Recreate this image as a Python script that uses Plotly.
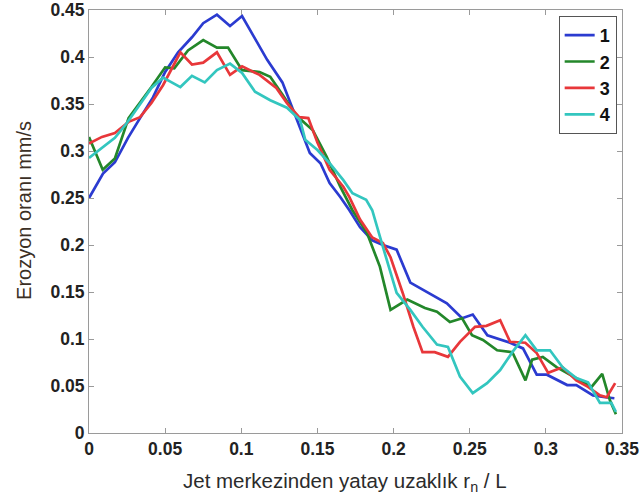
import plotly.graph_objects as go

# Series 1 (blue)
x1 = [0.0, 0.0092, 0.017, 0.0256, 0.0335, 0.042, 0.050, 0.0585, 0.0676, 0.075, 0.084, 0.0926, 0.1005,
      0.117, 0.127, 0.134, 0.145, 0.152, 0.158, 0.165, 0.171, 0.178, 0.186, 0.193, 0.202, 0.211,
      0.222, 0.235, 0.245, 0.252, 0.2616, 0.2765, 0.285, 0.294, 0.3007, 0.314, 0.320, 0.331, 0.339, 0.345]
y1 = [0.25, 0.276, 0.288, 0.314, 0.335, 0.357, 0.384, 0.405, 0.421, 0.436, 0.445, 0.433, 0.4436,
      0.397, 0.373, 0.343, 0.298, 0.287, 0.266, 0.251, 0.237, 0.219, 0.205, 0.200, 0.195, 0.160,
      0.150, 0.138, 0.122, 0.126, 0.104, 0.096, 0.090, 0.062, 0.062, 0.051, 0.051, 0.040, 0.038, 0.037]

# Series 2 (green)
x2 = [0.0, 0.009, 0.017, 0.026, 0.041, 0.050, 0.056, 0.065, 0.075, 0.084, 0.0913, 0.1005, 0.112,
      0.119, 0.127, 0.136, 0.147, 0.156, 0.165, 0.173, 0.1825, 0.191, 0.198, 0.209, 0.2206, 0.2285,
      0.237, 0.245, 0.2515, 0.2587, 0.268, 0.278, 0.2866, 0.291, 0.298, 0.307, 0.316, 0.330, 0.337,
      0.342, 0.346]
y2 = [0.315, 0.280, 0.292, 0.335, 0.368, 0.389, 0.388, 0.407, 0.418, 0.410, 0.410, 0.386, 0.384,
      0.379, 0.360, 0.338, 0.322, 0.294, 0.262, 0.237, 0.213, 0.177, 0.131, 0.142, 0.133, 0.129,
      0.118, 0.122, 0.104, 0.099, 0.088, 0.086, 0.056, 0.078, 0.081, 0.070, 0.062, 0.049, 0.063,
      0.035, 0.020]

# Series 3 (red)
x3 = [0.0, 0.0085, 0.017, 0.026, 0.0335, 0.041, 0.0486, 0.060, 0.0676, 0.075, 0.084, 0.0926, 0.1005,
      0.112, 0.123, 0.130, 0.138, 0.144, 0.150, 0.158, 0.167, 0.171, 0.178, 0.186, 0.193, 0.198,
      0.206, 0.213, 0.219, 0.227, 0.2357, 0.2436, 0.2535, 0.261, 0.270, 0.2765, 0.2865, 0.294,
      0.3015, 0.311, 0.320, 0.3277, 0.3355, 0.340, 0.3455]
y3 = [0.308, 0.315, 0.319, 0.331, 0.336, 0.351, 0.370, 0.405, 0.392, 0.394, 0.405, 0.381, 0.390,
      0.381, 0.367, 0.351, 0.336, 0.335, 0.309, 0.280, 0.262, 0.251, 0.227, 0.208, 0.202, 0.187,
      0.149, 0.113, 0.086, 0.086, 0.081, 0.097, 0.113, 0.114, 0.120, 0.097, 0.096, 0.085,
      0.064, 0.070, 0.056, 0.049, 0.040, 0.038, 0.053]

# Series 4 (cyan)
x4 = [0.0, 0.0085, 0.017, 0.025, 0.0335, 0.041, 0.0486, 0.060, 0.0676, 0.076, 0.084, 0.0926, 0.1005,
      0.109, 0.119, 0.130, 0.1386, 0.142, 0.150, 0.158, 0.167, 0.173, 0.182, 0.186, 0.193, 0.202,
      0.211, 0.219, 0.2285, 0.2357, 0.2436, 0.252, 0.2614, 0.270, 0.278, 0.2866, 0.294, 0.3027,
      0.311, 0.320, 0.3277, 0.3355, 0.343, 0.346]
y4 = [0.2925, 0.303, 0.314, 0.330, 0.349, 0.367, 0.378, 0.368, 0.380, 0.373, 0.386, 0.393, 0.383,
      0.363, 0.354, 0.346, 0.333, 0.312, 0.301, 0.287, 0.269, 0.255, 0.248, 0.237, 0.198, 0.149,
      0.131, 0.113, 0.094, 0.0915, 0.060, 0.0425, 0.053, 0.067, 0.086, 0.104, 0.088, 0.088,
      0.070, 0.0585, 0.054, 0.032, 0.032, 0.0225]

names = ["1", "2", "3", "4"]
colors = ["#2b3bd0", "#23872a", "#e8373a", "#33c6bf"]
xs = [x1, x2, x3, x4]
ys = [y1, y2, y3, y4]

x_ticks = [0, 0.05, 0.1, 0.15, 0.2, 0.25, 0.3, 0.35]
y_ticks = [0, 0.05, 0.1, 0.15, 0.2, 0.25, 0.3, 0.35, 0.4, 0.45]

FONT = "Liberation Sans, Arial"

fig = go.Figure()
for n, c, xv, yv in zip(names, colors, xs, ys):
    fig.add_trace(go.Scatter(x=xv, y=yv, mode="lines", name=n, legendgroup=n,
                             line=dict(color=c, width=2.7)))

axis_common = dict(showline=True, linecolor="#9a9a9a", linewidth=1, mirror="ticks",
                   ticks="inside", ticklen=5, tickcolor="#9a9a9a", showgrid=False, zeroline=False,
                   automargin=False,
                   tickfont=dict(family=FONT, size=17.5, color="#222222", weight="bold"))

fig.update_xaxes(range=[0, 0.35], tickvals=x_ticks, ticktext=[f"{v:g}" for v in x_ticks],
                 **axis_common)
fig.update_yaxes(range=[0, 0.45], tickvals=y_ticks, ticktext=[f"{v:g}" for v in y_ticks],
                 **axis_common)

# axis titles placed relative to the plot area
fig.add_annotation(text="Jet merkezinden yatay uzaklık r<sub>n</sub> / L",
                   xref="paper", yref="paper", x=0.48, y=0, yshift=-49,
                   xanchor="center", yanchor="middle", showarrow=False,
                   font=dict(family=FONT, size=20.5, color="#2b2b2b"))
fig.add_annotation(text="Erozyon oranı mm/s",
                   xref="paper", yref="paper", x=0, y=0.525, xshift=-65,
                   xanchor="center", yanchor="middle", showarrow=False, textangle=-90,
                   font=dict(family=FONT, size=20, color="#3b2f25"))

fig.update_layout(
    template="none",
    width=643, height=500,
    margin=dict(l=89, r=21, t=10, b=67),
    paper_bgcolor="white", plot_bgcolor="white",
    legend=dict(x=0.99, y=0.986, xanchor="right", yanchor="top",
                bgcolor="white", bordercolor="#555555", borderwidth=1,
                font=dict(family=FONT, size=18, color="#111111", weight="bold"),
                traceorder="grouped", tracegroupgap=0),
    showlegend=True,
)

fig.write_html("out.html", config={"displayModeBar": False},
               post_script="document.body.style.margin='0';document.body.style.padding='0';")
